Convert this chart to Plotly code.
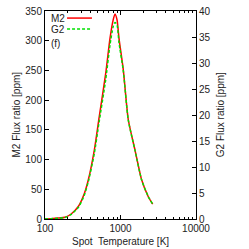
import plotly.graph_objects as go

# Data
temperature = [100, 120, 150, 184, 220, 276, 330, 375, 450, 520, 637, 726, 800, 845, 900, 955, 1089, 1268, 1556, 1905, 2335, 2670]
m2_flux = [0, 0.5, 1.5, 3, 8, 21, 42, 66, 116, 170, 245, 304, 335, 345, 335, 304, 251, 167, 116, 66, 37.5, 25]
g2_flux = [0, 0.05, 0.15, 0.3, 0.85, 2.2, 4.5, 7.2, 12.6, 18.6, 26.8, 33.5, 37.0, 37.8, 37.3, 33.9, 28.5, 19.0, 13.2, 7.5, 4.3, 2.85]

x_major = [100, 1000, 10000]
x_minor = [v * m for v in (100, 1000) for m in range(2, 10)]
y_left_ticks = list(range(0, 351, 50))
y_right_ticks = list(range(0, 41, 5))

FONT = "Liberation Sans, Arial, sans-serif"

fig = go.Figure()
fig.add_trace(go.Scatter(x=temperature, y=m2_flux, mode="lines", name="M2",
                         line=dict(color="#ff0000", width=1.5, shape="spline", smoothing=0.6),
                         yaxis="y"))
fig.add_trace(go.Scatter(x=temperature, y=g2_flux, mode="lines", name="G2",
                         line=dict(color="#00e000", width=1.5, dash="3px,2px",
                                   shape="spline", smoothing=0.6),
                         yaxis="y2"))

axis_common = dict(showline=True, linecolor="black", linewidth=1, ticks="inside",
                   tickcolor="black", ticklen=4, showgrid=False, zeroline=False,
                   automargin=False,
                   tickfont=dict(family=FONT, size=10, color="#222"))

fig.update_layout(
    width=249, height=249,
    margin=dict(l=45, r=53, t=11, b=30),
    paper_bgcolor="white", plot_bgcolor="white",
    showlegend=False,
    font=dict(family=FONT, size=10, color="#222"),
    xaxis=dict(type="log", range=[2, 4], tickvals=x_major, ticktext=[str(v) for v in x_major],
               mirror="ticks",
               minor=dict(tickvals=x_minor, ticks="inside", ticklen=2, tickcolor="black"),
               **axis_common),
    yaxis=dict(range=[0, 350], tickvals=y_left_ticks, **axis_common),
    yaxis2=dict(range=[0, 40], tickvals=y_right_ticks, overlaying="y", side="right",
                **axis_common),
)

# Axis titles
fig.add_annotation(text="M2 Flux ratio [ppm]", xref="paper", yref="paper",
                   x=-0.245, y=0.5, textangle=-90, showarrow=False,
                   font=dict(family=FONT, size=10, color="#222"))
fig.add_annotation(text="G2 Flux ratio [ppm]", xref="paper", yref="paper",
                   x=1.21, y=0.5, textangle=-90, showarrow=False,
                   font=dict(family=FONT, size=10, color="#222"))
fig.add_annotation(text="Spot  Temperature [K]", xref="paper", yref="paper",
                   x=0.5, y=-0.11, yanchor="middle", showarrow=False,
                   font=dict(family=FONT, size=10, color="#222"))

# Legend (gnuplot style: text then sample)
legend_items = [("M2", 0.966, "#ff0000", "solid"),
                ("G2", 0.913, "#00e000", "3px,2px"),
                ("(f)", 0.846, None, None)]
for label, yy, col, dash in legend_items:
    fig.add_annotation(text=label, xref="paper", yref="paper", x=0.025, y=yy,
                       xanchor="left", yanchor="middle", showarrow=False,
                       font=dict(family=FONT, size=10, color="#222"))
    if col:
        fig.add_shape(type="line", xref="paper", yref="paper", x0=0.146, x1=0.311,
                      y0=yy, y1=yy, line=dict(color=col, width=1.5, dash=dash))

fig.write_html("out.html",
               config={"displayModeBar": False, "staticPlot": True},
               post_script="document.body.style.margin='0';document.body.style.padding='0';")
